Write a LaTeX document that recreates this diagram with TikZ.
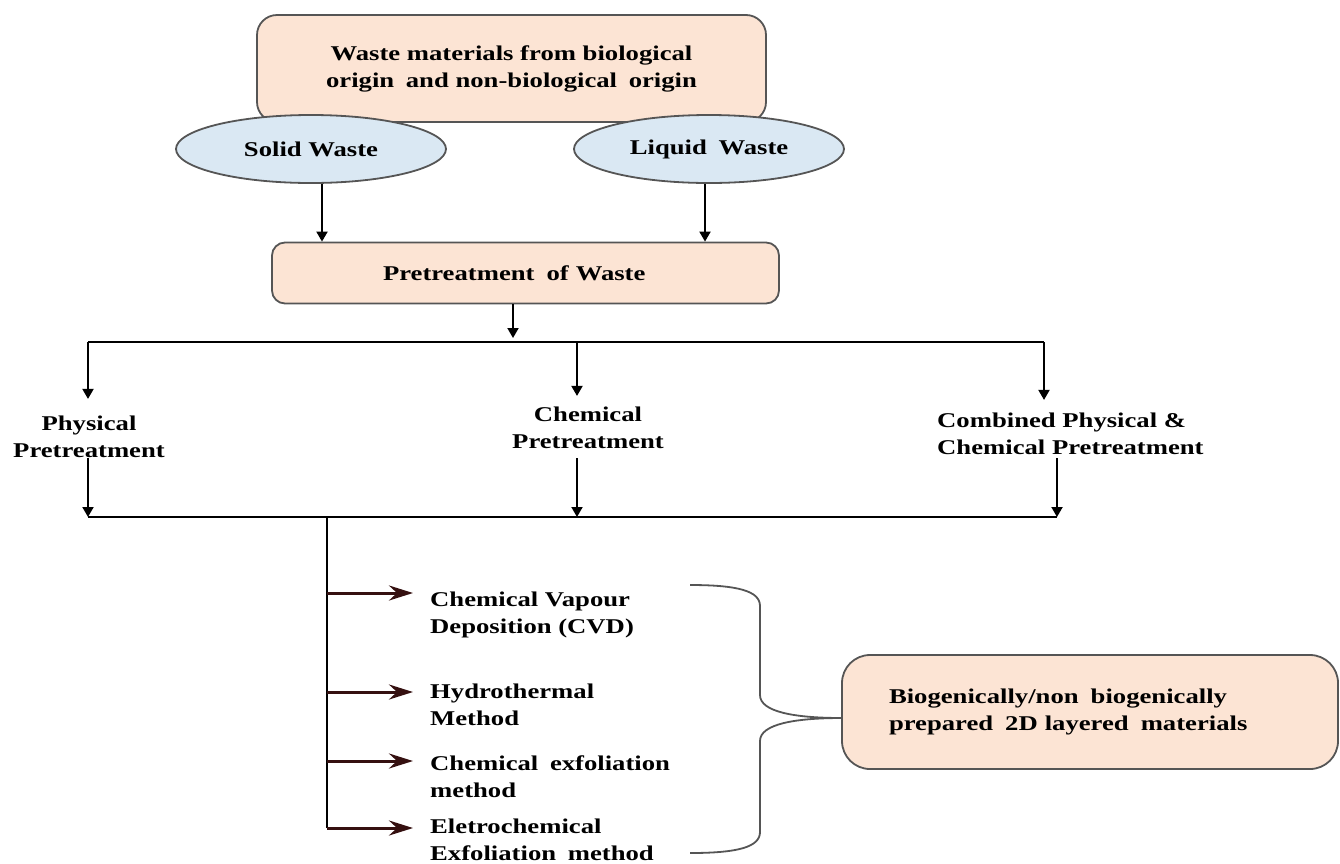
\documentclass[tikz,border=0pt]{standalone}
\usepackage{fontspec}
\setmainfont{Liberation Serif}[FakeStretch=1.27]
\usetikzlibrary{shapes.geometric,arrows.meta}
\definecolor{peach}{HTML}{FCE4D4}
\definecolor{iceblue}{HTML}{DAE8F3}
\definecolor{edgegray}{HTML}{555555}
\definecolor{darkmaroon}{HTML}{351010}
% a widened word space
\newcommand{\wsp}{\hspace{5pt}\ }

\begin{document}
\begin{tikzpicture}[x=1pt,y=-1pt,
  every node/.style={font=\fontsize{21}{27}\selectfont\bfseries, inner sep=0pt},
  peachbox/.style={draw=edgegray, fill=peach, line width=1.8pt, align=center},
  wasteoval/.style={ellipse, draw=edgegray, fill=iceblue, line width=1.8pt,
                    minimum width=270pt, minimum height=68pt},
  darr/.style={line width=1.9pt, -{Triangle[length=10pt,width=11pt]}},
  plainline/.style={line width=1.9pt},
  marr/.style={darkmaroon, line width=3pt, -{Stealth[length=24pt,width=15pt,inset=8pt]}},
  bracestyle/.style={edgegray, line width=1.8pt}
]
\useasboundingbox (0,0) rectangle (1340,863);

% source box and the two waste streams
\node[peachbox, rounded corners=20pt, minimum width=509pt, minimum height=107pt]
  (src) at (511.5,68.5) {Waste materials from biological\\origin\wsp and non-biological\wsp origin};
\node[wasteoval] (solid) at (311,149) {Solid Waste};
\node[wasteoval] (liquid) at (709,149) {Liquid\wsp Waste};

% pretreatment
\node[peachbox, rounded corners=13pt, minimum width=507pt, minimum height=61pt,
      text width=285pt, align=left] (pre) at (525.5,273) {Pretreatment\wsp of Waste};

\draw[darr] ([xshift=11pt]solid.south) -- ([xshift=11pt]solid.south |- pre.north);
\draw[darr] ([xshift=-4pt]liquid.south) -- ([xshift=-4pt]liquid.south |- pre.north);

% pretreatment routes
\node[align=center] (phys) at (89,437) {Physical\\Pretreatment};
\node[align=center] (chem) at (588,428) {Chemical\\Pretreatment};
\node[align=left, anchor=west] (comb) at (937,434) {Combined Physical \&\\Chemical Pretreatment};

\coordinate (splitT) at (513,342);
\coordinate (L1) at (88,342);
\coordinate (C1) at (577,342);
\coordinate (R1) at (1044,342);
\draw[darr, shorten >=4pt] (pre.south -| splitT) -- (splitT);
\draw[plainline] (L1) -- (R1);
\draw[darr, shorten >=17pt] (L1) -- (L1 |- phys.north);
\draw[darr, shorten >=11pt] (C1) -- (C1 |- chem.north);
\draw[darr, shorten >=13pt] (R1) -- (R1 |- comb.north);

\coordinate (L2) at (88,517);
\coordinate (C2) at (577,517);
\coordinate (R2) at (1057,517);
\coordinate (V) at (327,517);
\draw[darr] (phys.south -| L2) -- (L2);
\draw[darr, shorten <=9pt] (chem.south -| C2) -- (C2);
\draw[darr, shorten <=3pt] (comb.south -| R2) -- (R2);
\draw[plainline] (L2) -- (R2);

% synthesis methods
\node[align=left, anchor=west] (cvd) at (430,614.5) {Chemical Vapour\\Deposition (CVD)};
\node[align=left, anchor=west] (hyd) at (430,705) {Hydrothermal\\Method};
\node[align=left, anchor=west] (cex) at (430,777) {Chemical\wsp exfoliation\\method};
\node[align=left, anchor=west] (eex) at (430,840) {Eletrochemical\\Exfoliation\wsp method};

\coordinate (m1) at (327,593);
\coordinate (m2) at (327,692);
\coordinate (m3) at (327,761);
\coordinate (m4) at (327,828);
\draw[plainline] (V) -- (m4);
\draw[marr, shorten >=17pt] (m1) -- (m1 -| cvd.west);
\draw[marr, shorten >=17pt] (m2) -- (m2 -| hyd.west);
\draw[marr, shorten >=17pt] (m3) -- (m3 -| cex.west);
\draw[marr, shorten >=17pt] (m4) -- (m4 -| eex.west);

% product box and the brace collecting the methods
\coordinate (btop) at (690,585);
\coordinate (bbot) at (690,853);
\coordinate (btip) at (842,718);
\draw[bracestyle] (btop) .. controls (738,585) and (760,591) .. (760,606) -- (760,695)
  .. controls (760,712) and (795,718) .. (btip);
\draw[bracestyle] (btip) .. controls (795,718) and (760,724) .. (760,741) -- (760,832)
  .. controls (760,847) and (738,853) .. (bbot);
\node[peachbox, rounded corners=28pt, minimum width=496pt, minimum height=114pt,
      text width=402pt, align=left] (res) at (1090,712)
  {Biogenically/non\wsp biogenically\\prepared\wsp 2D layered\wsp materials};
\end{tikzpicture}
\end{document}
